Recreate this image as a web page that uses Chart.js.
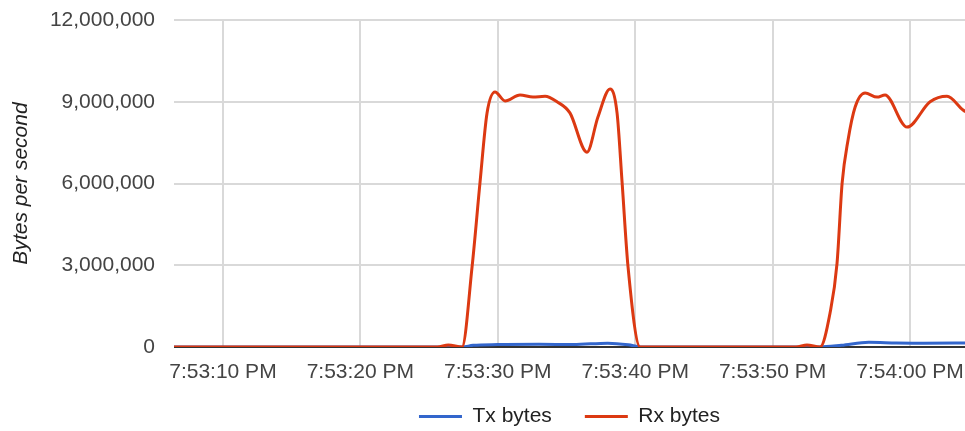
<!DOCTYPE html>
<html>
<head>
<meta charset="utf-8">
<script src="https://cdn.jsdelivr.net/npm/chart.js@4.4.1/dist/chart.umd.min.js"></script>
<style>
    html, body { margin: 0; padding: 0; background: #fff; }
</style>
</head>
<body>
<canvas id="net-chart" width="965" height="431"></canvas>
<script>
// times are seconds after 7:53:00 PM
const rxTimes = [6, 25.6, 26.4, 27.4, 28.13, 28.71, 29.22, 29.8, 30.53, 31.62, 32.56, 33.44, 34.31, 35.25, 36.49, 37.29, 38.17, 38.68, 39.05, 39.48, 40.36, 41, 51.7, 52.5, 53.45, 54.18, 54.69, 55.06, 55.49, 56.0, 56.73, 57.6, 58.18, 59.78, 61.46, 62.69, 63.86, 64.5];
const rxBytes = [0, 0, 70000, 0, 2940000, 6050000, 8590000, 9360000, 9030000, 9250000, 9170000, 9200000, 9000000, 8590000, 7150000, 8440000, 9470000, 8590000, 6020000, 2940000, 0, 0, 0, 70000, 0, 1250000, 3080000, 6020000, 7600000, 8800000, 9320000, 9170000, 9250000, 8070000, 9000000, 9200000, 8700000, 8500000];
const txTimes = [6, 27.4, 28.2, 30, 33, 35.5, 38, 39.5, 40.4, 53.4, 55, 57, 59, 61, 64.5];
const txBytes = [0, 0, 60000, 90000, 100000, 90000, 140000, 80000, 0, 0, 60000, 170000, 150000, 140000, 150000];

const seriesNames = ['Tx bytes', 'Rx bytes'];
const seriesColors = ['#3366cc', '#dc3912'];
const xTicks = [10, 20, 30, 40, 50, 60];
const yTicks = [0, 3000000, 6000000, 9000000, 12000000];
const yTitle = 'Bytes per second';

const fontFamily = '"Liberation Sans", Arial, sans-serif';

function timeLabel(s) {
    const min = 53 + Math.floor(s / 60);
    const sec = s % 60;
    return '7:' + min + ':' + String(sec).padStart(2, '0') + ' PM';
}

const txData = txTimes.map((t, i) => ({ x: t, y: txBytes[i] }));
const rxData = rxTimes.map((t, i) => ({ x: t, y: rxBytes[i] }));

// legend sits closer to the axis labels than chart.js would put it
const legendShift = {
    id: 'legendShift',
    afterLayout(chart) {
        chart.legend.top -= 14;
        chart.legend.bottom -= 14;
    }
};

const ctx = document.getElementById('net-chart').getContext('2d');

new Chart(ctx, {
    type: 'line',
    data: {
        datasets: [
            {
                label: seriesNames[0],
                data: txData,
                borderColor: seriesColors[0],
                backgroundColor: seriesColors[0],
                order: 1
            },
            {
                label: seriesNames[1],
                data: rxData,
                borderColor: seriesColors[1],
                backgroundColor: seriesColors[1],
                order: 0
            }
        ]
    },
    plugins: [legendShift],
    options: {
        responsive: false,
        animation: false,
        layout: { padding: { left: 0, right: 0, top: 20, bottom: -20 } },
        elements: {
            point: { radius: 0 },
            line: { borderWidth: 3, cubicInterpolationMode: 'monotone' }
        },
        plugins: {
            tooltip: { enabled: false },
            legend: {
                position: 'bottom',
                fullSize: false,
                labels: {
                    boxWidth: 43,
                    boxHeight: 3,
                    padding: 33,
                    color: '#222',
                    font: { family: fontFamily, size: 21 },
                    sort: (a, b) => a.datasetIndex - b.datasetIndex,
                    generateLabels: chart => Chart.defaults.plugins.legend.labels.generateLabels(chart)
                        .map(item => ({ ...item, lineWidth: 0, fillStyle: item.strokeStyle }))
                }
            }
        },
        scales: {
            x: {
                type: 'linear',
                min: 6.44,
                max: 64,
                afterBuildTicks: scale => { scale.ticks = xTicks.map(v => ({ value: v })); },
                afterFit: scale => {
                    scale.height = 40;
                    scale.paddingLeft = 0;
                    scale.paddingRight = 0;
                },
                border: { display: false },
                grid: { color: '#d9d9d9', lineWidth: 2, drawTicks: false },
                ticks: {
                    padding: 13,
                    color: '#444',
                    maxRotation: 0,
                    autoSkip: false,
                    font: { family: fontFamily, size: 21 },
                    callback: v => timeLabel(v)
                }
            },
            y: {
                min: 0,
                max: 12000000,
                afterBuildTicks: scale => { scale.ticks = yTicks.map(v => ({ value: v })); },
                afterFit: scale => {
                    scale.width = 174;
                    scale.paddingTop = 0;
                    scale.paddingBottom = 0;
                },
                border: { display: false },
                grid: {
                    color: c => (c.tick && c.tick.value === 0) ? '#333' : '#d9d9d9',
                    lineWidth: 2,
                    drawTicks: false
                },
                ticks: {
                    padding: 19,
                    color: '#444',
                    font: { family: fontFamily, size: 21 },
                    callback: v => v.toLocaleString('en-US')
                },
                title: {
                    display: true,
                    text: yTitle,
                    color: '#222',
                    font: { family: fontFamily, size: 21, style: 'italic' },
                    padding: { top: 9, bottom: 0 }
                }
            }
        }
    }
});
</script>
</body>
</html>
